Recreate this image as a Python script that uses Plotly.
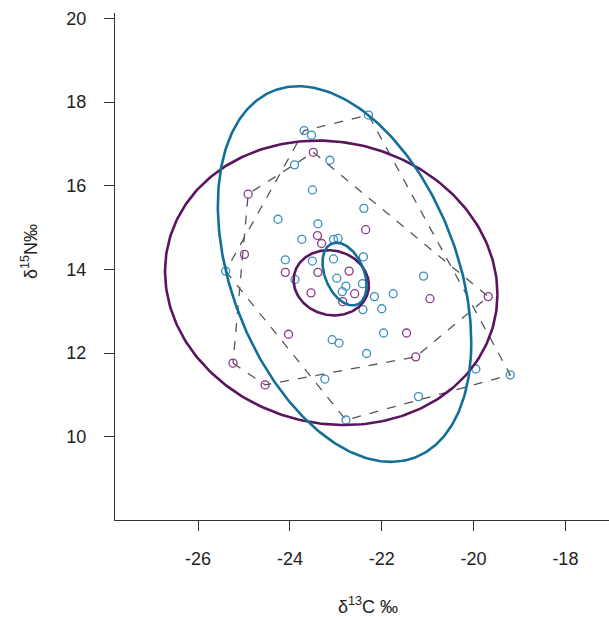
import numpy as np
import plotly.graph_objects as go

# ---- data ----
blue_x = [-22.29, -23.69, -23.53, -23.13, -23.90, -23.51, -22.39, -24.26, -23.39, -23.74,
          -23.05, -22.95, -22.40, -24.10, -23.51, -23.05, -25.40, -23.89, -22.98, -22.78,
          -22.86, -22.42, -22.16, -21.75, -22.41, -22.00, -21.96, -23.08, -22.93, -22.33,
          -23.24, -22.78, -21.09, -19.95, -19.20, -21.20]
blue_y = [17.69, 17.32, 17.21, 16.61, 16.50, 15.90, 15.46, 15.20, 15.09, 14.72,
          14.72, 14.74, 14.30, 14.23, 14.20, 14.25, 13.96, 13.76, 13.79, 13.60,
          13.47, 13.66, 13.35, 13.42, 13.04, 13.06, 12.48, 12.32, 12.24, 11.99,
          11.38, 10.40, 13.84, 11.62, 11.48, 10.96]

purple_x = [-23.49, -24.91, -22.35, -23.40, -23.31, -24.99, -24.10, -23.39, -22.71, -23.54,
            -22.59, -22.85, -24.03, -25.24, -24.54, -20.95, -19.68, -21.46, -21.26]
purple_y = [16.80, 15.80, 14.95, 14.81, 14.62, 14.36, 13.93, 13.93, 13.96, 13.44,
            13.42, 13.23, 12.45, 11.76, 11.24, 13.30, 13.35, 12.48, 11.91]

# ellipse parameters: centre x, centre y, half-width x, half-height y, correlation
blue_ell_large = [-22.81, 13.89, 2.76, 4.49, -0.365]
blue_ell_small = [-22.81, 13.89, 0.48, 0.75, -0.365]
purple_ell_large = [-23.10, 13.68, 3.62, 3.40, -0.08]
purple_ell_small = [-23.10, 13.68, 0.82, 0.78, -0.08]

x_ticks = [-26, -24, -22, -20, -18]
y_ticks = [10, 12, 14, 16, 18, 20]

BLUE_LINE = "#136f98"
BLUE_PT = "#3a8fbd"
PURP_LINE = "#5b145e"
PURP_PT = "#8a3a8a"


def hull(xs, ys):
    pts = sorted(set(zip(xs, ys)))

    def cross(o, a, b):
        return (a[0] - o[0]) * (b[1] - o[1]) - (a[1] - o[1]) * (b[0] - o[0])

    lower, upper = [], []
    for p in pts:
        while len(lower) >= 2 and cross(lower[-2], lower[-1], p) <= 0:
            lower.pop()
        lower.append(p)
    for p in reversed(pts):
        while len(upper) >= 2 and cross(upper[-2], upper[-1], p) <= 0:
            upper.pop()
        upper.append(p)
    h = lower[:-1] + upper[:-1]
    h.append(h[0])
    return [p[0] for p in h], [p[1] for p in h]


def ellipse(par, n=300):
    cx, cy, hx, hy, r = par
    t = np.linspace(0, 2 * np.pi, n)
    x = cx + hx * np.cos(t)
    y = cy + hy * (r * np.cos(t) + np.sqrt(1 - r * r) * np.sin(t))
    return x, y


fig = go.Figure()

for xs, ys in [(blue_x, blue_y), (purple_x, purple_y)]:
    hx_, hy_ = hull(xs, ys)
    fig.add_trace(go.Scatter(x=hx_, y=hy_, mode="lines",
                             line=dict(color="#555555", width=1.3, dash="dash"),
                             hoverinfo="skip", showlegend=False))

fig.add_trace(go.Scatter(x=blue_x, y=blue_y, mode="markers",
                         marker=dict(symbol="circle-open", size=8, color=BLUE_PT,
                                     line=dict(width=1.3)), showlegend=False))
fig.add_trace(go.Scatter(x=purple_x, y=purple_y, mode="markers",
                         marker=dict(symbol="circle-open", size=8, color=PURP_PT,
                                     line=dict(width=1.3)), showlegend=False))

for par, col in [(purple_ell_large, PURP_LINE), (purple_ell_small, PURP_LINE),
                 (blue_ell_large, BLUE_LINE), (blue_ell_small, BLUE_LINE)]:
    ex, ey = ellipse(par)
    fig.add_trace(go.Scatter(x=ex, y=ey, mode="lines",
                             line=dict(color=col, width=2.6),
                             hoverinfo="skip", showlegend=False))

axis_common = dict(showgrid=False, zeroline=False, showline=True, linecolor="#333333",
                   linewidth=1.3, ticks="outside", ticklen=10, tickwidth=1.3,
                   tickcolor="#333333",
                   tickfont=dict(family="Liberation Sans, Arial", size=18, color="#222222"))

fig.update_layout(
    width=609, height=617,
    margin=dict(l=115, r=0, t=13, b=97),
    plot_bgcolor="white", paper_bgcolor="white",
    xaxis=dict(range=[-27.81, -17.05], tickvals=x_ticks,
               ticktext=[str(v) for v in x_ticks], ticklabelstandoff=12, **axis_common),
    yaxis=dict(range=[8.01, 20.13], tickvals=y_ticks,
               ticktext=[str(v) for v in y_ticks], ticklabelstandoff=14, **axis_common),
    annotations=[
        dict(text="δ<sup>13</sup>C ‰", xref="paper", yref="paper",
             x=(368 - 115) / 494, y=-(605 - 520) / 507, xanchor="center", yanchor="middle",
             showarrow=False, font=dict(family="Liberation Sans, Arial", size=18, color="#222222")),
        dict(text="δ<sup>15</sup>N‰", xref="paper", yref="paper",
             x=-(115 - 30) / 494, y=(520 - 252) / 507, xanchor="center", yanchor="middle",
             textangle=-90, showarrow=False,
             font=dict(family="Liberation Sans, Arial", size=18, color="#222222")),
    ],
)

fig.write_html("out.html")
